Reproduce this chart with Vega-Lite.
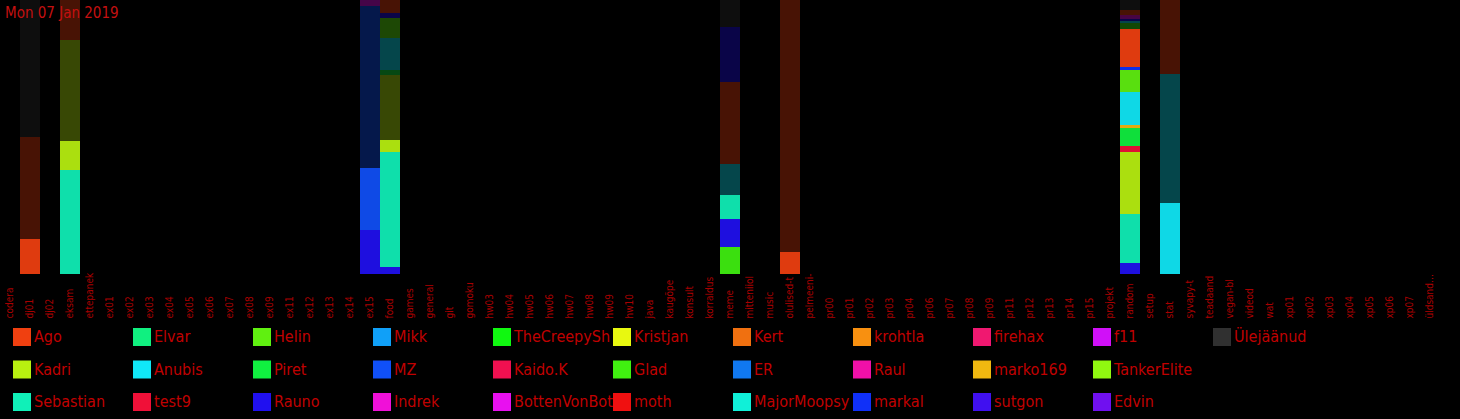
{
  "$schema": "https://vega.github.io/schema/vega-lite/v6.json",
  "width": 1440,
  "height": 274,
  "autosize": {"type": "none"},
  "padding": {"left": 0, "top": 0, "right": 20, "bottom": 145},
  "background": "#000000",
  "title": {
    "text": "Mon 07 Jan 2019",
    "anchor": "start",
    "orient": "top",
    "offset": -21,
    "dx": 5,
    "color": "#c41010",
    "font": "DejaVu Sans Condensed, Roboto, sans-serif",
    "fontSize": 15,
    "fontWeight": "normal"
  },
  "config": {
    "view": {"stroke": null},
    "font": "DejaVu Sans Condensed, Roboto, sans-serif"
  },
  "data": {
    "values": [
      {"channel": "dj01", "user": "Ago", "shade": "bright", "n": 1, "v": 35},
      {"channel": "dj01", "user": "Ago", "shade": "dim", "n": 2, "v": 102},
      {"channel": "dj01", "user": "Ülejäänud", "shade": "dim", "n": 3, "v": 137},
      {"channel": "eksam", "user": "Sebastian", "shade": "bright", "n": 1, "v": 104},
      {"channel": "eksam", "user": "Kadri", "shade": "bright", "n": 2, "v": 29},
      {"channel": "eksam", "user": "Kadri", "shade": "dim", "n": 3, "v": 101},
      {"channel": "eksam", "user": "Ago", "shade": "dim", "n": 4, "v": 40},
      {"channel": "ex15", "user": "Rauno", "shade": "bright", "n": 1, "v": 44},
      {"channel": "ex15", "user": "MZ", "shade": "bright", "n": 2, "v": 62},
      {"channel": "ex15", "user": "MZ", "shade": "dim", "n": 3, "v": 162},
      {"channel": "ex15", "user": "BottenVonBot", "shade": "dim", "n": 4, "v": 6},
      {"channel": "food", "user": "Rauno", "shade": "bright", "n": 1, "v": 7},
      {"channel": "food", "user": "Sebastian", "shade": "bright", "n": 2, "v": 115},
      {"channel": "food", "user": "Kadri", "shade": "bright", "n": 3, "v": 12},
      {"channel": "food", "user": "Kadri", "shade": "dim", "n": 4, "v": 65},
      {"channel": "food", "user": "Piret", "shade": "dim", "n": 5, "v": 5},
      {"channel": "food", "user": "Anubis", "shade": "dim", "n": 6, "v": 32},
      {"channel": "food", "user": "Helin", "shade": "dim", "n": 7, "v": 20},
      {"channel": "food", "user": "Rauno", "shade": "dim", "n": 8, "v": 5},
      {"channel": "food", "user": "Ago", "shade": "dim", "n": 9, "v": 13},
      {"channel": "meme", "user": "Glad", "shade": "bright", "n": 1, "v": 27},
      {"channel": "meme", "user": "Rauno", "shade": "bright", "n": 2, "v": 28},
      {"channel": "meme", "user": "Sebastian", "shade": "bright", "n": 3, "v": 24},
      {"channel": "meme", "user": "Anubis", "shade": "dim", "n": 4, "v": 31},
      {"channel": "meme", "user": "Ago", "shade": "dim", "n": 5, "v": 82},
      {"channel": "meme", "user": "Rauno", "shade": "dim", "n": 6, "v": 55},
      {"channel": "meme", "user": "Ülejäänud", "shade": "dim", "n": 7, "v": 27},
      {"channel": "olulised-t", "user": "Ago", "shade": "bright", "n": 1, "v": 22},
      {"channel": "olulised-t", "user": "Ago", "shade": "dim", "n": 2, "v": 252},
      {"channel": "random", "user": "Rauno", "shade": "bright", "n": 1, "v": 11},
      {"channel": "random", "user": "Sebastian", "shade": "bright", "n": 2, "v": 49},
      {"channel": "random", "user": "Kadri", "shade": "bright", "n": 3, "v": 62},
      {"channel": "random", "user": "test9", "shade": "bright", "n": 4, "v": 6},
      {"channel": "random", "user": "Piret", "shade": "bright", "n": 5, "v": 18},
      {"channel": "random", "user": "marko169", "shade": "bright", "n": 6, "v": 3},
      {"channel": "random", "user": "Anubis", "shade": "bright", "n": 7, "v": 33},
      {"channel": "random", "user": "Helin", "shade": "bright", "n": 8, "v": 22},
      {"channel": "random", "user": "markal", "shade": "bright", "n": 9, "v": 3},
      {"channel": "random", "user": "Ago", "shade": "bright", "n": 10, "v": 38},
      {"channel": "random", "user": "Glad", "shade": "dim", "n": 11, "v": 6},
      {"channel": "random", "user": "Anubis", "shade": "dim", "n": 12, "v": 2},
      {"channel": "random", "user": "Rauno", "shade": "dim", "n": 13, "v": 2},
      {"channel": "random", "user": "BottenVonBot", "shade": "dim", "n": 14, "v": 2},
      {"channel": "random", "user": "Indrek", "shade": "dim", "n": 15, "v": 2},
      {"channel": "random", "user": "Ago", "shade": "dim", "n": 16, "v": 5},
      {"channel": "random", "user": "Ülejäänud", "shade": "dim", "n": 17, "v": 10},
      {"channel": "stat", "user": "Anubis", "shade": "bright", "n": 1, "v": 71},
      {"channel": "stat", "user": "Anubis", "shade": "dim", "n": 2, "v": 129},
      {"channel": "stat", "user": "Ago", "shade": "dim", "n": 3, "v": 74}
    ]
  },
  "mark": {"type": "bar", "strokeWidth": 0},
  "encoding": {
    "x": {
      "field": "channel",
      "type": "nominal",
      "sort": null,
      "scale": {
        "paddingInner": 0,
        "paddingOuter": 0,
        "domain": ["codera","dj01","dj02","eksam","ettepanek","ex01","ex02","ex03","ex04","ex05","ex06","ex07","ex08","ex09","ex11","ex12","ex13","ex14","ex15","food","games","general","git","gomoku","hw03","hw04","hw05","hw06","hw07","hw08","hw09","hw10","java","kaugõpe","konsult","korraldus","meme","mitteniiol","music","olulised-t","pelmeeni-","pr00","pr01","pr02","pr03","pr04","pr06","pr07","pr08","pr09","pr11","pr12","pr13","pr14","pr15","projekt","random","setup","stat","syvapy-t","teadaand","vegan-bl","videod","wat","xp01","xp02","xp03","xp04","xp05","xp06","xp07","üldsandec"]
      },
      "axis": {
        "title": null,
        "ticks": false,
        "domain": false,
        "labelAngle": 270,
        "labelAlign": "left",
        "labelBaseline": "middle",
        "labelPadding": 44,
        "labelLimit": 46,
        "labelOverlap": false,
        "labelColor": "#a80000",
        "labelFont": "DejaVu Sans Condensed, Roboto, sans-serif",
        "labelFontSize": 10
      }
    },
    "y": {
      "field": "v",
      "type": "quantitative",
      "stack": "normalize",
      "axis": null
    },
    "order": {"field": "n", "type": "quantitative"},
    "opacity": {
      "field": "shade",
      "type": "nominal",
      "scale": {"domain": ["bright", "dim"], "range": [0.93, 0.3]},
      "legend": null
    },
    "color": {
      "field": "user",
      "type": "nominal",
      "scale": {
        "domain": ["Ago","Elvar","Helin","Mikk","TheCreepySh","Kristjan","Kert","krohtla","firehax","f11","Ülejäänud",
                   "Kadri","Anubis","Piret","MZ","Kaido.K","Glad","ER","Raul","marko169","TankerElite"," ",
                   "Sebastian","test9","Rauno","Indrek","BottenVonBot","moth","MajorMoopsy","markal","sutgon","Edvin"],
        "range": ["#f04010","#10f080","#60f010","#10a0f8","#10f810","#e8f810","#f07010","#f89010","#f01870","#d010f8","#303030",
                  "#b8f010","#10e8f8","#10f040","#1050f8","#f01050","#40f010","#1078f0","#f010a8","#f0b810","#90f810","#000000",
                  "#10f0b8","#f01038","#2010f0","#f010d8","#e810f0","#f01010","#10f0d8","#1030f8","#4010f0","#7010f0"]
      },
      "legend": {
        "title": null,
        "orient": "none",
        "legendX": 13,
        "legendY": 328,
        "direction": "horizontal",
        "columns": 11,
        "gridAlign": "all",
        "padding": 0,
        "symbolLimit": 0,
        "symbolType": "square",
        "symbolSize": 324,
        "symbolStrokeWidth": 0,
        "symbolOpacity": 1,
        "labelFont": "DejaVu Sans Condensed, Roboto, sans-serif",
        "labelFontSize": 16,
        "labelColor": "#c00000",
        "labelOffset": 3,
        "labelLimit": 100,
        "rowPadding": 14.5,
        "columnPadding": 0
      }
    }
  }
}
